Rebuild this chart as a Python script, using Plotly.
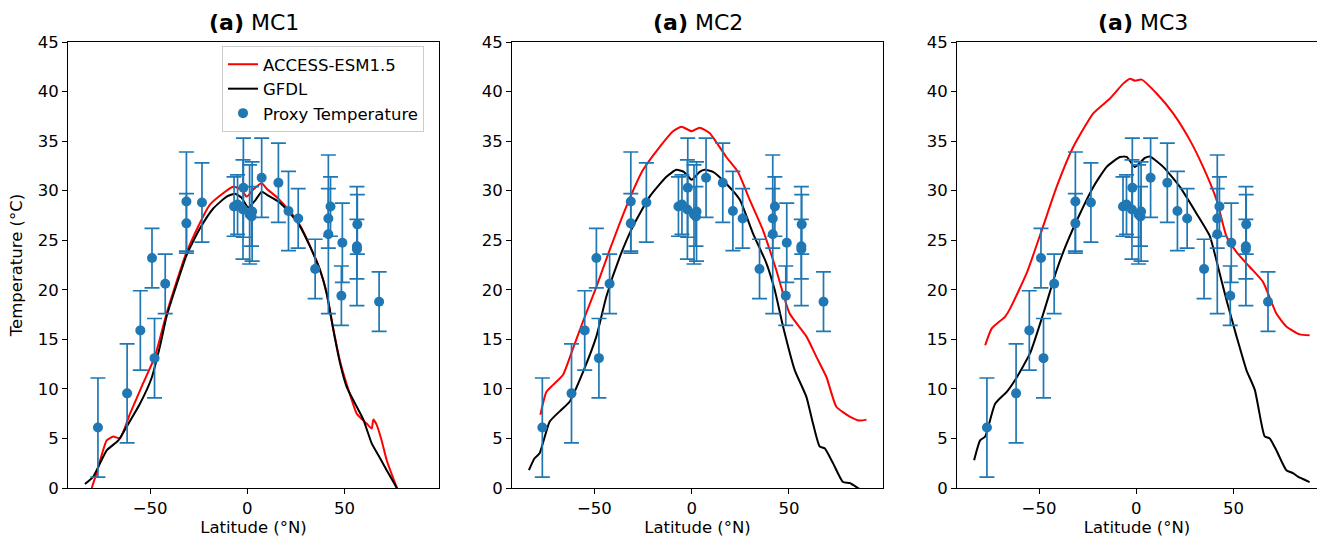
import plotly.graph_objects as go

# ---------------- data ----------------
proxy_lat = [-76.8, -61.8, -55.0, -49.0, -47.7, -42.2, -31.3, -31.3, -23.3,
             -6.8, -5.0, -2.0, -2.2, 1.2, 2.5, 2.2, 7.4, 16.0, 21.2, 26.2,
             34.9, 41.7, 42.8, 41.7, 48.9, 48.4, 56.6, 56.4, 56.4, 67.8]
proxy_temp = [6.1, 9.55, 15.9, 23.2, 13.1, 20.6, 28.9, 26.7, 28.8,
              28.4, 28.6, 30.3, 28.1, 27.6, 27.9, 27.4, 31.3, 30.8, 27.95, 27.2,
              22.1, 27.2, 28.4, 25.6, 24.75, 19.4, 26.6, 24.4, 24.1, 18.8]
proxy_err = [5.0, 5.0, 4.0, 3.0, 4.0, 3.0, 5.0, 3.0, 4.0,
             3.0, 3.0, 5.0, 5.0, 5.0, 5.0, 3.0, 4.0, 4.0, 4.0, 3.0,
             3.0, 3.0, 3.0, 8.0, 4.0, 3.0, 3.0, 6.0, 3.0, 3.0]

# MC1
mc1_gfdl_lat = [-83.5, -79.2, -72.3, -66.3, -62.0, -55.2, -49.2, -44.9, -41.5, -37.2, -31.2,
                -24.3, -17.5, -10.6, -6.3, -3.0, 0.5, 4.0, 7.4, 10.0, 16.0, 22.0, 27.1,
                32.3, 37.4, 40.8, 44.3, 47.7, 51.1, 56.3, 59.7, 64.0, 68.3, 71.7, 76.9, 80.0]
mc1_gfdl_t = [0.4, 1.15, 3.8, 4.8, 6.2, 8.5, 11.1, 14.3, 17.3, 20.0, 23.5,
              26.2, 28.2, 29.4, 29.7, 29.3, 28.3, 29.0, 29.9, 29.6, 28.9, 27.7, 26.4,
              24.35, 22.0, 19.65, 15.9, 12.6, 10.2, 8.2, 6.9, 4.5, 3.0, 1.8, 0.0, -1.0]
mc1_access_lat = [-80.0, -77.5, -72.3, -68.9, -65.5, -60.3, -53.5, -47.5, -41.5, -31.2,
                  -19.2, -7.2, -3.0, -0.3, 3.5, 7.4, 10.0, 16.0, 22.8, 27.1, 32.3, 37.4,
                  40.8, 44.3, 47.7, 51.1, 56.3, 61.4, 64.0, 64.8, 66.5, 69.1, 71.7, 76.0, 79.0]
mc1_access_t = [0.0, 1.5, 4.8, 5.2, 5.0, 7.5, 10.6, 13.25, 17.6, 23.8,
                28.6, 30.4, 30.1, 29.4, 30.2, 30.75, 30.2, 29.2, 27.7, 26.5, 24.4, 22.0,
                19.7, 16.0, 12.8, 10.5, 7.5, 6.5, 6.0, 6.9, 6.4, 4.8, 2.8, 0.5, -1.0]

# MC2
mc2_gfdl_lat = [-83.7, -80.8, -78.2, -73.0, -67.0, -62.8, -55.9, -49.0, -43.9, -37.0, -30.2,
                -21.6, -13.0, -7.9, -4.0, 0.0, 4.1, 6.7, 11.0, 17.8, 24.7, 31.5, 38.4,
                42.7, 47.0, 53.0, 59.0, 62.4, 65.8, 68.4, 72.7, 77.8, 81.3, 85.5, 89.5]
mc2_gfdl_t = [1.8, 3.0, 3.5, 6.7, 7.9, 8.7, 11.7, 15.3, 19.3, 23.3, 26.4,
              29.4, 31.4, 32.1, 31.9, 31.1, 31.9, 32.1, 31.9, 30.7, 29.1, 25.7, 22.7,
              20.0, 16.3, 11.9, 9.2, 6.5, 4.2, 4.0, 2.5, 0.6, 0.5, 0.0, -0.5]
mc2_access_lat = [-77.8, -74.7, -71.3, -66.2, -61.9, -55.9, -49.0, -42.2, -33.6, -25.0,
                  -16.5, -9.6, -5.3, 0.0, 4.1, 9.3, 17.8, 23.8, 29.8, 36.7, 43.5, 50.4,
                  59.0, 64.1, 69.3, 74.4, 81.3, 86.4, 89.9]
mc2_access_t = [7.4, 9.7, 10.4, 11.4, 13.6, 16.8, 20.3, 24.0, 28.4, 32.1,
                34.4, 36.0, 36.45, 36.0, 36.35, 35.8, 33.4, 31.9, 29.1, 26.0, 22.0, 17.6,
                15.3, 13.25, 11.2, 8.2, 7.2, 6.8, 6.9]

# MC3
mc3_gfdl_lat = [-83.4, -80.3, -77.7, -72.6, -66.6, -62.3, -54.6, -47.8, -40.9, -35.7, -28.9,
                -22.0, -15.2, -8.4, -4.9, -0.7, 4.5, 7.0, 13.9, 22.4, 31.0, 37.9, 42.1,
                46.4, 51.6, 56.7, 61.0, 64.4, 66.1, 68.7, 72.1, 77.2, 80.6, 83.2, 89.2]
mc3_gfdl_t = [2.8, 4.8, 5.2, 8.5, 9.7, 10.9, 13.6, 17.6, 22.0, 24.7, 27.7,
              30.4, 32.4, 33.4, 33.4, 32.4, 33.3, 33.45, 32.4, 30.4, 27.7, 25.4, 22.3,
              19.0, 15.3, 11.9, 9.9, 6.5, 5.2, 5.0, 3.8, 1.8, 1.5, 1.15, 0.6]
mc3_access_lat = [-77.7, -74.3, -67.4, -64.9, -56.3, -48.6, -40.9, -32.4, -22.1, -13.5,
                  -6.7, -3.2, -0.7, 2.8, 10.5, 19.0, 27.6, 34.4, 41.3, 46.4, 51.6, 58.4,
                  65.2, 72.1, 77.2, 84.1, 89.2]
mc3_access_t = [14.4, 16.1, 17.3, 18.1, 21.7, 26.0, 30.4, 34.4, 37.8, 39.3,
                40.8, 41.3, 41.1, 41.2, 39.8, 37.8, 35.1, 32.4, 29.1, 25.4, 23.8, 22.3,
                20.8, 17.6, 16.3, 15.5, 15.4]

titles = ["MC1", "MC2", "MC3"]
x_ticks = [-50, 0, 50]
y_ticks = [0, 5, 10, 15, 20, 25, 30, 35, 40, 45]

panels = [
    (mc1_access_lat, mc1_access_t, mc1_gfdl_lat, mc1_gfdl_t),
    (mc2_access_lat, mc2_access_t, mc2_gfdl_lat, mc2_gfdl_t),
    (mc3_access_lat, mc3_access_t, mc3_gfdl_lat, mc3_gfdl_t),
]

# ---------------- layout geometry ----------------
W, H = 1317, 540
x_dom_px = [(68, 439), (512, 883), (957, 1317)]
x_ranges = [[-92.2, 98.6], [-92.4, 98.4], [-92.2, 93.0]]
y_dom = [1 - 488 / H, 1 - 42 / H]
FONT = "DejaVu Sans"
FS = 16.5
BLUE = "#1f77b4"

fig = go.Figure()
for i, (alat, at, glat, gt) in enumerate(panels):
    xa = "x" if i == 0 else f"x{i+1}"
    ya = "y" if i == 0 else f"y{i+1}"
    show = i == 0
    fig.add_trace(go.Scatter(x=alat, y=at, mode="lines", name="ACCESS-ESM1.5",
                             line=dict(color="red", width=2, shape="spline", smoothing=0.5),
                             xaxis=xa, yaxis=ya, showlegend=show))
    fig.add_trace(go.Scatter(x=glat, y=gt, mode="lines", name="GFDL",
                             line=dict(color="black", width=2, shape="spline", smoothing=0.5),
                             xaxis=xa, yaxis=ya, showlegend=show))
    fig.add_trace(go.Scatter(x=proxy_lat, y=proxy_temp, mode="markers",
                             name="Proxy Temperature",
                             marker=dict(color=BLUE, size=10),
                             error_y=dict(type="data", array=proxy_err, visible=True,
                                          color=BLUE, thickness=1.7, width=7.5),
                             xaxis=xa, yaxis=ya, showlegend=show))

axis_common = dict(showgrid=False, zeroline=False, showline=True, linecolor="black",
                   linewidth=1, ticks="outside", ticklen=5, tickwidth=1, automargin=False,
                   tickcolor="black", tickfont=dict(family=FONT, size=FS, color="black"))

layout = dict(width=W, height=H, margin=dict(l=0, r=0, t=0, b=0),
              plot_bgcolor="white", paper_bgcolor="white",
              font=dict(family=FONT, size=FS, color="black"),
              legend=dict(x=222 / W, y=1 - 46 / H, xanchor="left", yanchor="top",
                          bgcolor="white", bordercolor="#cccccc", borderwidth=1,
                          font=dict(family=FONT, size=FS, color="black"),
                          tracegroupgap=0, itemwidth=30),
              annotations=[])

for i in range(3):
    xk = "xaxis" if i == 0 else f"xaxis{i+1}"
    yk = "yaxis" if i == 0 else f"yaxis{i+1}"
    ya = "y" if i == 0 else f"y{i+1}"
    xa = "x" if i == 0 else f"x{i+1}"
    d0, d1 = x_dom_px[i]
    layout[xk] = dict(axis_common, domain=[d0 / W, d1 / W], range=x_ranges[i],
                      tickvals=x_ticks, ticktext=["\u221250", "0", "50"],
                      mirror=True, anchor=ya,
                      title=dict(text="Latitude (°N)", standoff=2,
                                 font=dict(family=FONT, size=FS, color="black")))
    layout[yk] = dict(axis_common, domain=y_dom, range=[0, 45], tickvals=y_ticks,
                      mirror=(i < 2), anchor=xa)
    if i == 0:
        layout[yk]["title"] = dict(text="Temperature (°C)", standoff=10,
                                   font=dict(family=FONT, size=FS, color="black"))
    layout["annotations"].append(dict(
        text=f"<b>(a)</b> {titles[i]}", x=(68 + 371 / 2 + [0, 444, 889][i]) / W,
        y=1 - 37 / H, xref="paper", yref="paper", xanchor="center", yanchor="bottom",
        showarrow=False, font=dict(family=FONT, size=22, color="black")))

fig.update_layout(**layout)
fig.write_html("out.html")
